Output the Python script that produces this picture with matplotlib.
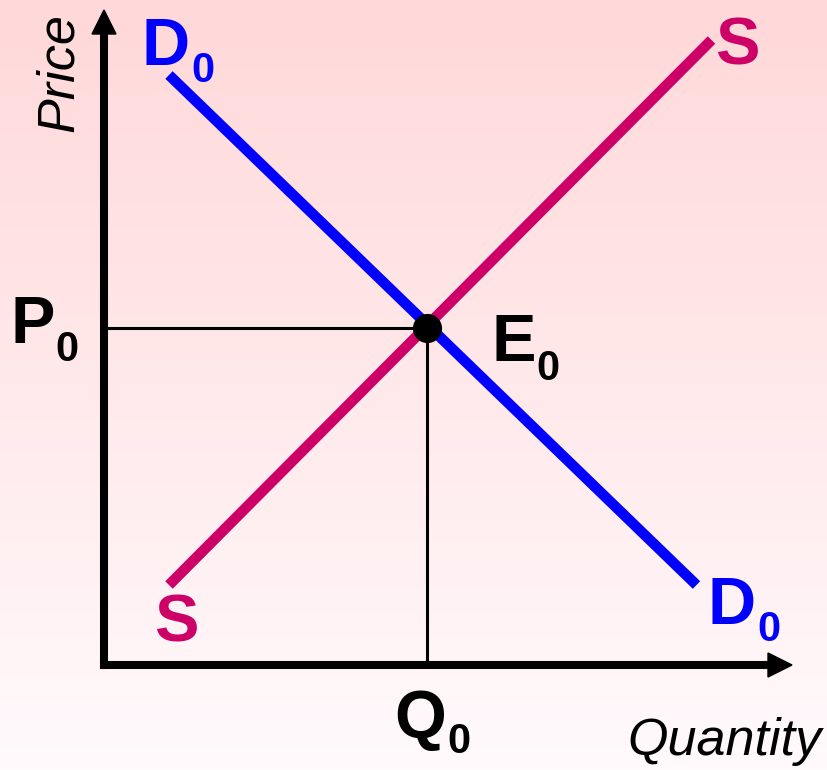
import numpy as np
import matplotlib
matplotlib.use("Agg")
import matplotlib.pyplot as plt
from matplotlib.colors import LinearSegmentedColormap

plt.rcParams['font.family'] = ['Liberation Sans', 'DejaVu Sans']

# ── Curve data (quantity, price) ─────────────────────────────
demand_q = [1.30, 11.85]
demand_p = [11.80, 1.60]
supply_q = [1.30, 12.15]
supply_p = [1.60, 12.50]

Q0 = 6.45
P0 = 6.75

X_MAX = 13.76   # tip of quantity axis arrow
Y_MAX = 13.10   # tip of price axis arrow

BLUE = '#0000FF'
MAGENTA = '#CC0066'

fig = plt.figure(figsize=(8.27, 7.70), dpi=100)
ax = fig.add_axes([0, 0, 1, 1])
xlim = (-2.08, 14.46)
ylim = (-2.10, 13.30)

# ── Background gradient ──────────────────────────────────────
bg = LinearSegmentedColormap.from_list('bg', ['#FFFAFC', '#FFD8D9'])
grad = np.linspace(0, 1, 256).reshape(-1, 1)
ax.imshow(grad, extent=[xlim[0], xlim[1], ylim[0], ylim[1]], origin='lower',
          aspect='auto', cmap=bg, zorder=0)

# ── Axes with arrows ─────────────────────────────────────────
head = 0.48
hw = 0.24
ax.plot([0, 0], [0, Y_MAX - head], color='k', lw=5.8,
        solid_capstyle='projecting', zorder=2)
ax.plot([0, X_MAX - head], [0, 0], color='k', lw=5.8,
        solid_capstyle='projecting', zorder=2)
ax.fill([-hw, hw, 0], [Y_MAX - head, Y_MAX - head, Y_MAX], color='k', zorder=2)
ax.fill([X_MAX - head, X_MAX - head, X_MAX], [-hw, hw, 0], color='k', zorder=2)

# ── Guide lines ──────────────────────────────────────────────
ax.plot([0, Q0], [P0, P0], color='k', lw=2.2, zorder=2)
ax.plot([Q0, Q0], [0, P0], color='k', lw=2.2, zorder=2)

# ── Supply & demand ──────────────────────────────────────────
ax.plot(supply_q, supply_p, color=MAGENTA, lw=7.6,
        solid_capstyle='butt', zorder=3)
ax.plot(demand_q, demand_p, color=BLUE, lw=7.6,
        solid_capstyle='butt', zorder=4)
ax.plot([Q0], [P0], 'o', color='k', markersize=20, zorder=5)

# ── Labels ───────────────────────────────────────────────────
BIG = 48
SUB = 30


def label(x, y, main, color, sub=None, dx=0.98, dy=-0.34):
    ax.text(x, y, main, fontsize=BIG, fontweight='bold', color=color,
            ha='left', va='baseline', zorder=6)
    if sub is not None:
        ax.text(x + dx, y + dy, sub, fontsize=SUB, fontweight='bold',
                color=color, ha='left', va='baseline', zorder=6)


label(0.76, 12.00, 'D', BLUE, '0')
label(12.08, 0.82, 'D', BLUE, '0')
label(12.22, 12.02, 'S', MAGENTA)
label(1.00, 0.48, 'S', MAGENTA)
label(-1.88, 6.44, 'P', 'k', '0', dx=0.91, dy=-0.36)
label(7.74, 6.08, 'E', 'k', '0', dx=0.91, dy=-0.38)
label(5.80, -1.44, 'Q', 'k', '0', dx=1.06, dy=-0.32)

ax.text(10.46, -1.80, 'Quantity', fontsize=37.5, fontstyle='italic',
        color='k', ha='left', va='baseline', zorder=6)
ax.text(-0.62, 10.66, 'Price', fontsize=37.5, fontstyle='italic',
        color='k', rotation=90, rotation_mode='anchor',
        ha='left', va='baseline', zorder=6)

ax.set_xlim(*xlim)
ax.set_ylim(*ylim)
ax.axis('off')

fig.savefig('out.png', dpi=100)
